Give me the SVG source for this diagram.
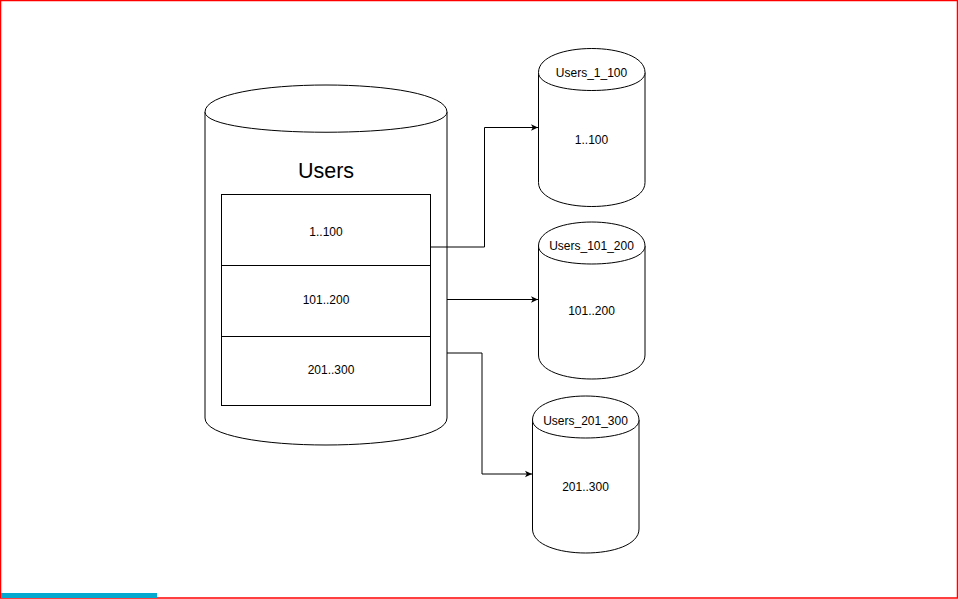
<svg xmlns="http://www.w3.org/2000/svg" width="958" height="599" viewBox="0 0 958 599">
<defs>
<style>
.cyl{fill:#fff;stroke:#000;stroke-width:1}
.box{fill:#fff;stroke:#000;stroke-width:1}
.lbl{font-family:"Liberation Sans",Arial,sans-serif;font-size:12px;fill:#000;text-anchor:middle;dominant-baseline:central}
.big{font-size:21.5px}
.edge{fill:none;stroke:#000;stroke-width:1}
</style>
<marker id="arr" markerWidth="8" markerHeight="8" refX="7" refY="4" orient="auto" markerUnits="userSpaceOnUse">
<path d="M0,0.8 L7,4 L0,7.2 L1.8,4 Z" fill="#000"/>
</marker>
</defs>
<rect x="0.5" y="0.5" width="957" height="597.5" fill="#fff" stroke="#ff0000" stroke-width="1.5"/>
<rect x="1" y="593" width="156" height="5" fill="#05a9cf"/>

<g id="users">
<path class="cyl" d="M205,112 C205,76 447,76 447,112 L447,418 C447,454 205,454 205,418 Z"/>
<path class="cyl" d="M205,112 C205,139 447,139 447,112"/>
<text class="lbl big" x="326" y="171">Users</text>
</g>
<g id="part-1-100">
<rect class="box" x="221.5" y="194.5" width="209" height="71"/>
<text class="lbl" x="326" y="232">1..100</text>
</g>
<g id="part-101-200">
<rect class="box" x="221.5" y="265.5" width="209" height="71"/>
<text class="lbl" x="326" y="300">101..200</text>
</g>
<g id="part-201-300">
<rect class="box" x="221.5" y="336.5" width="209" height="69"/>
<text class="lbl" x="331" y="370">201..300</text>
</g>

<g id="users_1_100">
<path class="cyl" d="M538.5,72.5 C538.5,40.5 645,40.5 645,72.5 L645,182.5 C645,214.5 538.5,214.5 538.5,182.5 Z"/>
<path class="cyl" d="M538.5,72.5 C538.5,96.5 645,96.5 645,72.5"/>
<text class="lbl" x="591.5" y="73">Users_1_100</text>
<text class="lbl" x="591.5" y="140">1..100</text>
</g>
<g id="users_101_200">
<path class="cyl" d="M538.5,246 C538.5,214 645,214 645,246 L645,355 C645,387 538.5,387 538.5,355 Z"/>
<path class="cyl" d="M538.5,246 C538.5,270 645,270 645,246"/>
<text class="lbl" x="591.5" y="246">Users_101_200</text>
<text class="lbl" x="591.5" y="311">101..200</text>
</g>
<g id="users_201_300">
<path class="cyl" d="M532.5,420 C532.5,388 639,388 639,420 L639,529 C639,561 532.5,561 532.5,529 Z"/>
<path class="cyl" d="M532.5,420 C532.5,444 639,444 639,420"/>
<text class="lbl" x="585.5" y="421">Users_201_300</text>
<text class="lbl" x="585.5" y="487">201..300</text>
</g>

<g id="connectors">
<path class="edge" d="M430.5,247 L484.5,247 L484.5,127.5 L538,127.5" marker-end="url(#arr)"/>
<path class="edge" d="M447,299.5 L538,299.5" marker-end="url(#arr)"/>
<path class="edge" d="M447,353 L482,353 L482,474 L532,474" marker-end="url(#arr)"/>
</g>
</svg>
